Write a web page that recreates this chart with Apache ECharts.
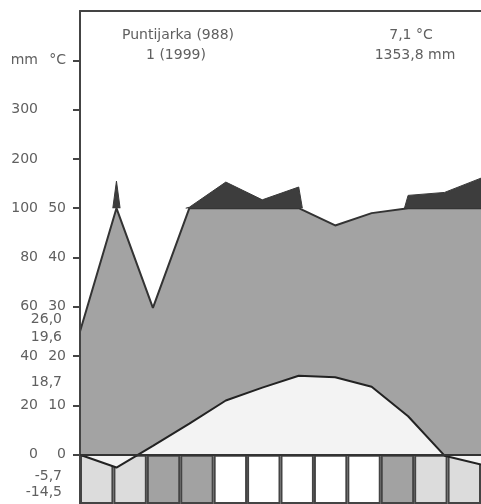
<!DOCTYPE html>
<html>
<head>
<meta charset="utf-8">
<script src="https://cdn.jsdelivr.net/npm/echarts@6/dist/echarts.min.js"></script>
<style>html,body{margin:0;padding:0;background:#fff;}#c{width:481px;height:504px;}</style>
</head>
<body>
<div id="c"></div>
<script>
// ---- data ----
const months = ['I','II','III','IV','V','VI','VII','VIII','IX','X','XI','XII'];
const precip = [50, 155, 59.6, 102, 153, 117, 143, 93, 98, 126, 132, 161];   // mm
const temp = [0.0, -2.6, 1.8, 6.3, 11.0, 13.6, 16.0, 15.7, 13.8, 7.8, -0.2, -2.0]; // °C
const frost = [1, 1, 2, 2, 0, 0, 0, 0, 0, 2, 1, 1]; // 0 none, 1 probable, 2 certain
const tempTicks = [0, 10, 20, 30, 40, 50];
const mmTicks = [0, 20, 40, 60, 80, 100, 200, 300];
const annotations = ['26,0', '19,6', '18,7', '-5,7', '-14,5'];
const stationLines = ['Puntijarka (988)', '1 (1999)'];
const summaryLines = ['7,1 °C', '1353,8 mm'];

// ---- layout / style constants ----
const annotationPos = [27.4, 23.7, 14.6, -4.3, -7.7];
const frostColors = ['#ffffff', '#dcdcdc', '#a2a2a2'];
const txt = '#606060';
const font = 'DejaVu Sans';

// precipitation in °C-units (Walter–Lieth: 20 mm = 10 °C, above 100 mm compressed 1:10)
const tp = p => p <= 100 ? p / 2 : 50 + (p - 100) / 10;
const headerPos = tp(400);

const grayData = precip.map((p, i) => [i, Math.min(tp(p), 50)]);
const darkData = [];
const edge = 0.1;
for (let i = 0; i < precip.length; i++) {
  if (precip[i] > 100) {
    if (i === 0 || precip[i - 1] <= 100) { if (darkData.length) darkData.push(null); darkData.push([i - edge, 50]); }
    darkData.push([i, tp(precip[i])]);
    if (i === precip.length - 1 || precip[i + 1] <= 100) darkData.push([i + edge, 50]);
  }
}
const tempData = temp.map((t, i) => [i, t]);

const mmLabelMap = {}; mmTicks.forEach(m => mmLabelMap[tp(m)] = String(m)); mmLabelMap[headerPos] = 'mm';
const cLabelMap = {}; tempTicks.forEach(t => cLabelMap[t] = String(t)); cLabelMap[headerPos] = '°C';
const annMap = {}; annotationPos.forEach((p, i) => annMap[p] = annotations[i]);

const chart = echarts.init(document.getElementById('c'));
const lblStyle = { color: txt, fontFamily: font, fontSize: 14 };
chart.setOption({
  animation: false,
  grid: { left: 80, top: 11, width: 406, height: 493, containLabel: false },
  xAxis: [
    { type: 'value', min: 0, max: 11, position: 'bottom', z: 10,
      axisLine: { show: true, onZero: true, lineStyle: { color: '#333', width: 2 } },
      axisTick: { show: false }, axisLabel: { show: false }, splitLine: { show: false } },
    { type: 'category', data: months, position: 'top', boundaryGap: true, z: 10,
      axisLine: { show: true, onZero: false, lineStyle: { color: '#444', width: 2 } },
      axisTick: { show: false }, axisLabel: { show: false }, splitLine: { show: false } }
  ],
  yAxis: [
    { type: 'value', min: -10, max: 90, position: 'left', z: 10,
      axisLine: { show: true, lineStyle: { color: '#444', width: 2 } },
      axisTick: { show: true, length: 7, customValues: [0,10,20,30,40,50,60,70,80], lineStyle: { color: '#444', width: 2 } },
      axisLabel: Object.assign({ margin: 14, customValues: Object.keys(cLabelMap).map(Number),
        formatter: v => cLabelMap[v] || '' }, lblStyle),
      splitLine: { show: false } },
    { type: 'value', min: -10, max: 90, position: 'left',
      axisLine: { show: false }, axisTick: { show: false },
      axisLabel: Object.assign({ margin: 42, customValues: Object.keys(mmLabelMap).map(Number),
        formatter: v => mmLabelMap[v] || '' }, lblStyle),
      splitLine: { show: false } },
    { type: 'value', min: -10, max: 90, position: 'left',
      axisLine: { show: false }, axisTick: { show: false },
      axisLabel: Object.assign({ margin: 18, customValues: annotationPos,
        formatter: v => annMap[v] || '' }, lblStyle),
      splitLine: { show: false } }
  ],
  series: [
    { type: 'bar', xAxisIndex: 1, yAxisIndex: 0, z: 1, barWidth: '100%', silent: true,
      data: frost.map(f => ({ value: -10, itemStyle: { color: frostColors[f] } })),
      itemStyle: { borderColor: '#444', borderWidth: 2 } },
    { type: 'line', xAxisIndex: 0, yAxisIndex: 0, z: 2, data: grayData, symbol: 'none',
      lineStyle: { color: '#333', width: 2 }, areaStyle: { color: '#a3a3a3', opacity: 1 } },
    { type: 'line', xAxisIndex: 0, yAxisIndex: 0, z: 3, data: darkData, symbol: 'none', connectNulls: false,
      lineStyle: { color: '#3a3a3a', width: 1 }, areaStyle: { color: '#3d3d3d', opacity: 1, origin: 50 } },
    { type: 'line', xAxisIndex: 0, yAxisIndex: 0, z: 4, data: tempData, symbol: 'none',
      lineStyle: { color: '#222', width: 2 }, areaStyle: { color: '#f3f3f3', opacity: 1 } }
  ],
  graphic: [
    { type: 'text', x: 178, y: 35, style: { text: stationLines[0], fill: txt, font: '14px "DejaVu Sans"', textAlign: 'center', textVerticalAlign: 'middle' } },
    { type: 'text', x: 176, y: 55, style: { text: stationLines[1], fill: txt, font: '14px "DejaVu Sans"', textAlign: 'center', textVerticalAlign: 'middle' } },
    { type: 'text', x: 411, y: 35, style: { text: summaryLines[0], fill: txt, font: '14px "DejaVu Sans"', textAlign: 'center', textVerticalAlign: 'middle' } },
    { type: 'text', x: 415, y: 55, style: { text: summaryLines[1], fill: txt, font: '14px "DejaVu Sans"', textAlign: 'center', textVerticalAlign: 'middle' } }
  ]
});
</script>
</body>
</html>
